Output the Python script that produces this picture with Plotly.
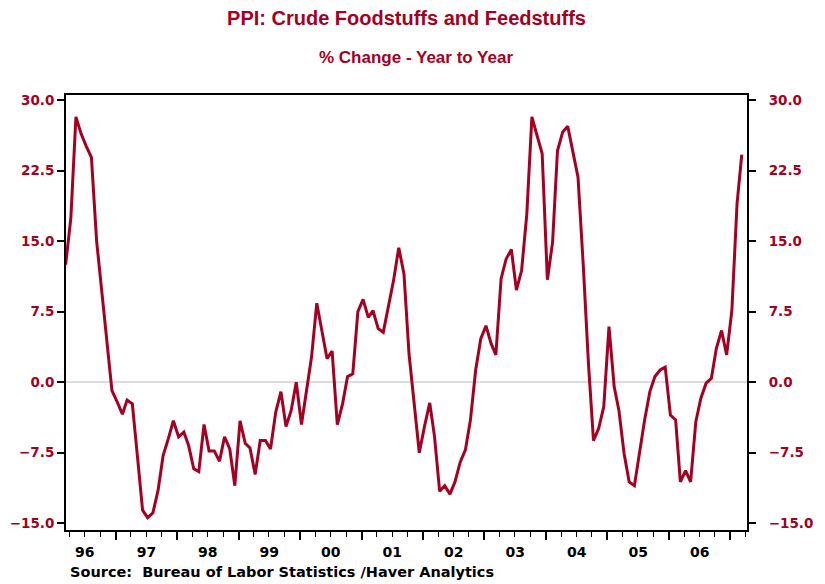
import pandas as pd
import plotly.graph_objects as go

# PPI crude foodstuffs and feedstuffs, % change y/y, monthly Mar-1996 .. Mar-2007
first_month = "1996-03-01"
ppi_yoy = [
    12.5, 17.5, 28.2, 26.4, 25.1, 23.9, 15.0, 9.9, 4.6, -0.9,                      # 1996
    -2.1, -3.4, -1.9, -2.3, -7.8, -13.6, -14.4, -13.9, -11.5, -7.8, -6.0, -4.1,    # 1997
    -5.8, -5.3, -6.7, -9.2, -9.5, -4.5, -7.3, -7.3, -8.4, -5.8, -7.1, -11.0,       # 1998
    -4.1, -6.5, -7.0, -9.8, -6.2, -6.2, -7.1, -3.2, -1.0, -4.7, -3.0, 0.0,         # 1999
    -4.5, -0.5, 2.7, 8.4, 5.5, 2.5, 3.3, -4.5, -2.3, 0.6, 0.9, 7.5,                # 2000
    8.8, 6.9, 7.6, 5.7, 5.3, 8.0, 10.8, 14.3, 11.5, 3.0, -2.6, -7.5,               # 2001
    -4.7, -2.2, -5.7, -11.6, -11.0, -11.9, -10.6, -8.5, -7.2, -4.0, 1.3, 4.6,      # 2002
    6.0, 4.1, 2.9, 11.0, 13.1, 14.1, 9.8, 11.9, 17.9, 28.2, 26.2, 24.3,            # 2003
    10.9, 14.9, 24.6, 26.6, 27.2, 24.6, 21.8, 12.5, 2.0, -6.2, -4.9, -2.6,         # 2004
    5.9, -0.5, -3.0, -7.6, -10.6, -11.0, -7.6, -4.0, -1.0, 0.6, 1.3, 1.6,          # 2005
    -3.5, -4.0, -10.6, -9.4, -10.6, -4.2, -1.7, -0.1, 0.4, 3.6, 5.5, 2.9,          # 2006
    7.6, 19.0, 24.2,                                                               # 2007
]
y_ticks = [-15.0, -7.5, 0.0, 7.5, 15.0, 22.5, 30.0]

months = pd.date_range(first_month, periods=len(ppi_yoy), freq="MS") + pd.Timedelta(days=9)

RED = "#A50021"
tick_font = dict(family="DejaVu Sans", size=13.5, color=RED, weight="bold")

fig = go.Figure()
fig.add_trace(go.Scatter(x=months, y=ppi_yoy, mode="lines",
                         line=dict(color=RED, width=3), showlegend=False))
# same series on the right-hand axis (invisible) so that axis gets its labels
fig.add_trace(go.Scatter(x=months, y=ppi_yoy, mode="lines", yaxis="y2",
                         line=dict(color=RED, width=0), opacity=0,
                         hoverinfo="skip", showlegend=False))

yrange = [-15.71, 30.53]
yax = dict(range=yrange, tickvals=y_ticks, tickformat=".1f", ticks="outside",
           ticklen=7, tickwidth=2, tickcolor="black", showline=True,
           linecolor="black", linewidth=2, showgrid=False, tickfont=tick_font,
           fixedrange=True, automargin=False)

# the page body keeps its default 8px margin, so the figure is 8px smaller
fig.update_layout(
    width=817, height=576,
    margin=dict(l=58, r=78, t=87, b=54),
    paper_bgcolor="white", plot_bgcolor="white",
    title=dict(text="PPI: Crude Foodstuffs and Feedstuffs", x=0.5, xref="paper",
               y=1 - 10 / 576, yref="container", yanchor="middle",
               font=dict(family="Liberation Sans", size=20, color=RED, weight="bold")),
    xaxis=dict(
        type="date", range=["1996-03-12", "2007-04-10"], automargin=False,
        tick0="1996-01-01", dtick="M12", tickformat="%y", ticklabelmode="period",
        ticks="outside", ticklen=8, tickwidth=2, tickcolor="black",
        minor=dict(dtick="M3", ticks="outside", ticklen=5, tickwidth=1, tickcolor="black"),
        showline=True, linecolor="black", linewidth=2, mirror=True, showgrid=False,
        tickfont=dict(family="DejaVu Sans", size=14, color="black", weight="bold"),
    ),
    yaxis=dict(**yax, ticklabelstandoff=0,
               zeroline=True, zerolinecolor="#dcdcdc", zerolinewidth=2),
    yaxis2=dict(**yax, ticklabelstandoff=10, overlaying="y", side="right", zeroline=False),
)

fig.add_annotation(text="% Change - Year to Year", xref="paper", yref="paper",
                   x=0.514, y=1.087, yanchor="middle", showarrow=False,
                   font=dict(family="Liberation Sans", size=17, color=RED, weight="bold"))
fig.add_annotation(text="Source:  Bureau of Labor Statistics /Haver Analytics",
                   xref="paper", yref="paper", x=0.003, y=-0.0966,
                   xanchor="left", yanchor="middle", showarrow=False,
                   font=dict(family="DejaVu Sans", size=14.5, color="black", weight="bold"))

fig.write_html("out.html")
